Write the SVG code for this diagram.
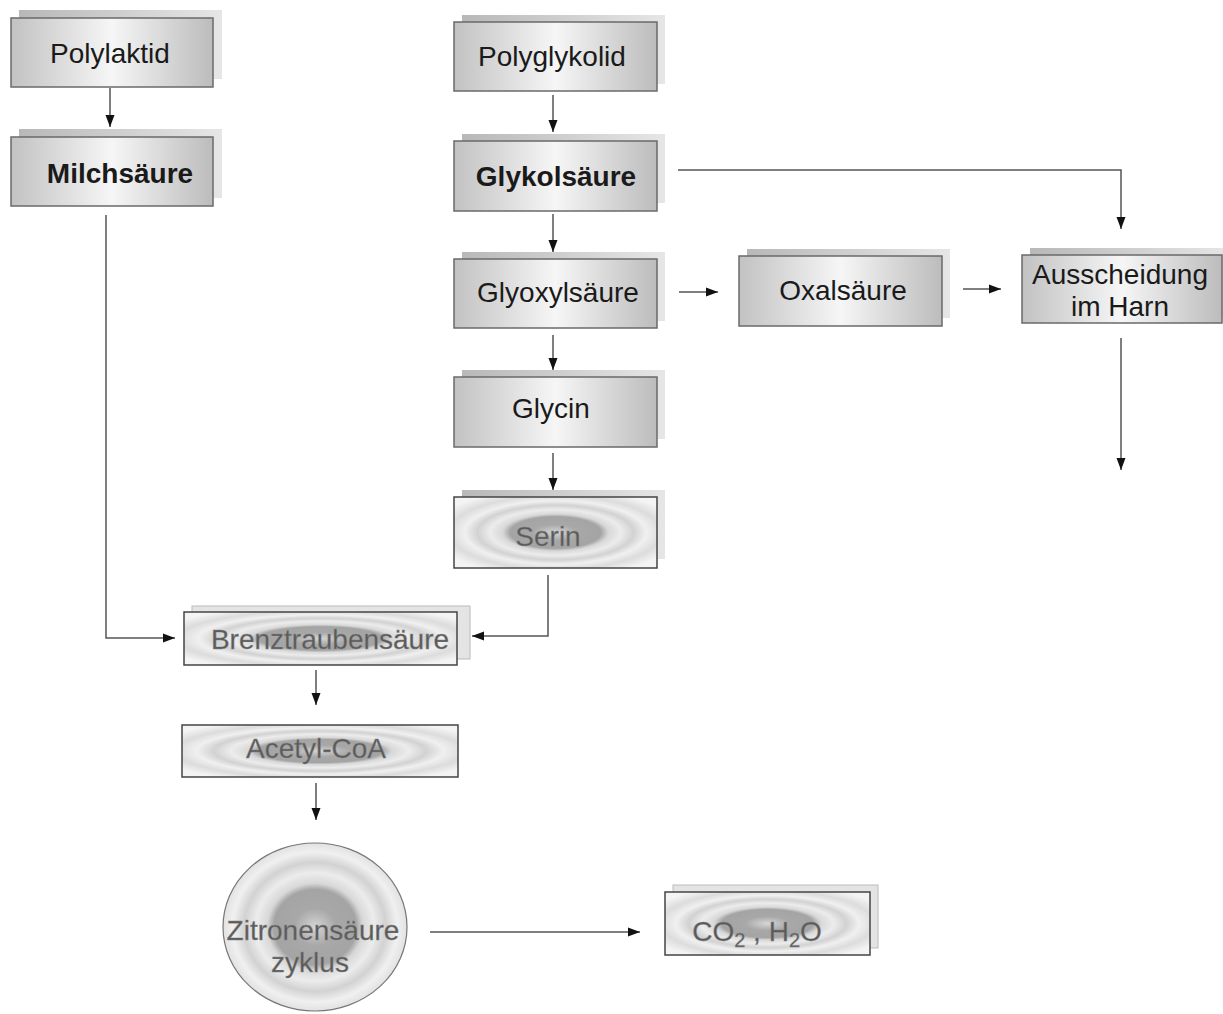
<svg xmlns="http://www.w3.org/2000/svg" width="1223" height="1014" viewBox="0 0 1223 1014">
<defs>
<linearGradient id="gFront" x1="0" y1="0" x2="1" y2="0">
<stop offset="0" stop-color="#c2c2c2"/>
<stop offset="0.5" stop-color="#f6f6f6"/>
<stop offset="1" stop-color="#bcbcbc"/>
</linearGradient>
<linearGradient id="gShadow" x1="0" y1="0" x2="1" y2="0">
<stop offset="0" stop-color="#b8b8b8"/>
<stop offset="1" stop-color="#e6e6e6"/>
</linearGradient>
<radialGradient id="gRing" cx="0.5" cy="0.5" r="0.62">
<stop offset="0" stop-color="#d6d6d6"/>
<stop offset="0.1" stop-color="#bcbcbc"/>
<stop offset="0.18" stop-color="#a8a8a8"/>
<stop offset="0.36" stop-color="#a4a4a4"/>
<stop offset="0.42" stop-color="#d8d8d8"/>
<stop offset="0.52" stop-color="#ececec"/>
<stop offset="0.62" stop-color="#d2d2d2"/>
<stop offset="0.72" stop-color="#f0f0f0"/>
<stop offset="0.84" stop-color="#dcdcdc"/>
<stop offset="1" stop-color="#f4f4f4"/>
</radialGradient>
<marker id="ah" markerWidth="12" markerHeight="10" refX="12" refY="5" orient="auto" markerUnits="userSpaceOnUse">
<path d="M0,0.5 L12,5 L0,9.5 Z" fill="#111"/>
</marker>
<style>
.sh{fill:url(#gShadow);stroke:none}
.fr{fill:url(#gFront);stroke:#6a6a6a;stroke-width:1.5}
.rg{fill:url(#gRing);stroke:#444;stroke-width:1.5}
.rc{fill:url(#gRing);stroke:#777;stroke-width:1.2}
.shr{fill:#e4e4e4;stroke:#bbb;stroke-width:1}
.t{font-family:"Liberation Sans",Arial,sans-serif;font-size:28px;fill:#1a1a1a;text-anchor:middle}
.b{font-weight:bold}
.g{fill:#5a5a5a;stroke:#888;stroke-width:0.4}
.c{fill:none;stroke:#555;stroke-width:1.5}
.ca{fill:none;stroke:#555;stroke-width:1.5;marker-end:url(#ah)}
</style>
</defs>
<rect width="1223" height="1014" fill="#fff"/>
<g id="connectors">
<path class="ca" d="M110,88 V127"/>
<path class="ca" d="M553,95 V132"/>
<path class="ca" d="M553,214 V252"/>
<path class="ca" d="M553,335 V370"/>
<path class="ca" d="M553,453 V490"/>
<path class="ca" d="M678,170 H1121 V229"/>
<path class="ca" d="M679,292 H718"/>
<path class="ca" d="M963,289 H1001"/>
<path class="ca" d="M1121,338 V470"/>
<path class="ca" d="M106,215 V638 H175"/>
<path class="ca" d="M548,575 V636 H472"/>
<path class="ca" d="M316,670 V705"/>
<path class="ca" d="M316,783 V820"/>
<path class="ca" d="M430,932 H640"/>
</g>
<g id="n-polylaktid">
<rect class="sh" x="19" y="10" width="203" height="69"/>
<rect class="fr" x="11" y="18" width="202" height="69"/>
<text class="t" x="110" y="63">Polylaktid</text>
</g>
<g id="n-milchsaeure">
<rect class="sh" x="19" y="129" width="203" height="69"/>
<rect class="fr" x="11" y="137" width="202" height="69"/>
<text class="t b" x="120" y="183">Milchsäure</text>
</g>
<g id="n-polyglykolid">
<rect class="sh" x="462" y="15" width="203" height="69"/>
<rect class="fr" x="454" y="22" width="203" height="69"/>
<text class="t" x="552" y="66">Polyglykolid</text>
</g>
<g id="n-glykolsaeure">
<rect class="sh" x="462" y="134" width="203" height="69"/>
<rect class="fr" x="454" y="141" width="203" height="70"/>
<text class="t b" x="556" y="186">Glykolsäure</text>
</g>
<g id="n-glyoxylsaeure">
<rect class="sh" x="462" y="252" width="203" height="69"/>
<rect class="fr" x="454" y="259" width="203" height="69"/>
<text class="t" x="558" y="302">Glyoxylsäure</text>
</g>
<g id="n-glycin">
<rect class="sh" x="462" y="370" width="203" height="69"/>
<rect class="fr" x="454" y="377" width="203" height="70"/>
<text class="t" x="551" y="418">Glycin</text>
</g>
<g id="n-serin">
<rect class="sh" x="462" y="490" width="203" height="69"/>
<rect class="rg" x="454" y="497" width="203" height="71"/>
<text class="t g" x="548" y="546">Serin</text>
</g>
<g id="n-oxalsaeure">
<rect class="sh" x="747" y="249" width="203" height="69"/>
<rect class="fr" x="739" y="256" width="203" height="70"/>
<text class="t" x="843" y="300">Oxalsäure</text>
</g>
<g id="n-ausscheidung">
<rect class="sh" x="1030" y="248" width="200" height="68"/>
<rect class="fr" x="1022" y="255" width="200" height="68"/>
<text class="t" x="1120" y="284">Ausscheidung</text>
<text class="t" x="1120" y="316">im Harn</text>
</g>
<g id="n-brenztraubensaeure">
<rect class="shr" x="192" y="606" width="278" height="53"/>
<rect class="rg" x="184" y="612" width="273" height="53"/>
<text class="t g" x="330" y="649">Brenztraubensäure</text>
</g>
<g id="n-acetylcoa">
<rect class="rg" x="182" y="725" width="276" height="52"/>
<text class="t g" x="316" y="758">Acetyl-CoA</text>
</g>
<g id="n-zitronensaeurezyklus">
<ellipse class="rc" cx="315" cy="927" rx="92" ry="84"/>
<text class="t g" x="313" y="940">Zitronensäure</text>
<text class="t g" x="310" y="972">zyklus</text>
</g>
<g id="n-co2h2o">
<rect class="shr" x="673" y="885" width="205" height="63"/>
<rect class="rg" x="665" y="892" width="205" height="63"/>
<text class="t g" x="757" y="941">CO<tspan font-size="20" dy="6">2</tspan><tspan dy="-6"> , </tspan>H<tspan font-size="20" dy="6">2</tspan><tspan dy="-6">O</tspan></text>
</g>
</svg>
